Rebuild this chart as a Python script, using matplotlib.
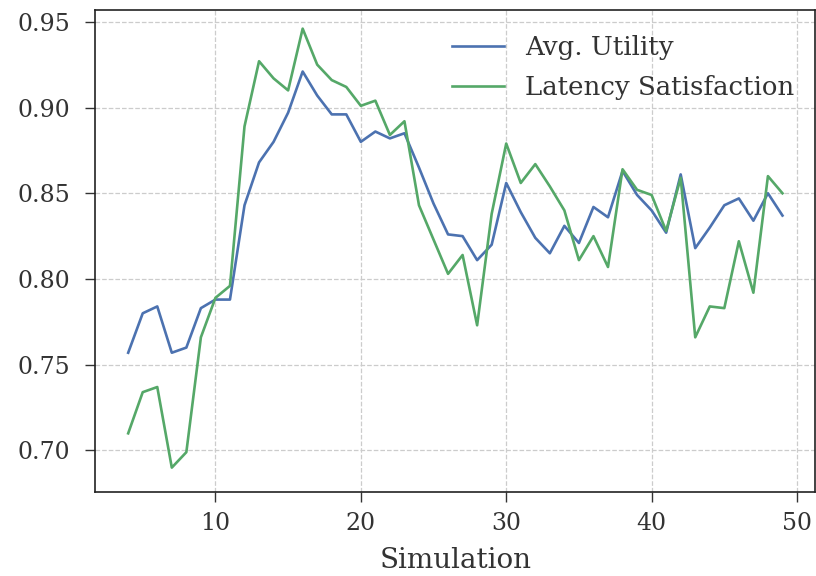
import numpy as np
import matplotlib
matplotlib.use('agg')
import matplotlib.pyplot as plt

# per-simulation results
sim = list(range(4, 50))
avg_utility = [0.757, 0.780, 0.784, 0.757, 0.760, 0.783, 0.788, 0.788, 0.843, 0.868,
               0.880, 0.897, 0.921, 0.907, 0.896, 0.896, 0.880, 0.886, 0.882, 0.885,
               0.865, 0.844, 0.826, 0.825, 0.811, 0.820, 0.856, 0.839, 0.824, 0.815,
               0.831, 0.821, 0.842, 0.836, 0.863, 0.849, 0.840, 0.827, 0.861, 0.818,
               0.830, 0.843, 0.847, 0.834, 0.850, 0.837]
latency_sat = [0.710, 0.734, 0.737, 0.690, 0.699, 0.766, 0.789, 0.796, 0.889, 0.927,
               0.917, 0.910, 0.946, 0.925, 0.916, 0.912, 0.901, 0.904, 0.884, 0.892,
               0.843, 0.823, 0.803, 0.814, 0.773, 0.838, 0.879, 0.856, 0.867, 0.854,
               0.840, 0.811, 0.825, 0.807, 0.864, 0.852, 0.849, 0.828, 0.859, 0.766,
               0.784, 0.783, 0.822, 0.792, 0.860, 0.850]

plt.rcParams['font.family'] = 'DejaVu Serif'
plt.rcParams['font.size'] = 17
text_color = '#333333'

fig = plt.figure(figsize=(8.16, 5.76), dpi=100)
ax = fig.add_axes([0.117, 0.145, 0.882, 0.838])

ax.plot(sim, avg_utility, color='#4C72B0', lw=1.9, label='Avg. Utility')
ax.plot(sim, latency_sat, color='#55A868', lw=1.9, label='Latency Satisfaction')

ax.set_yticks([0.70, 0.75, 0.80, 0.85, 0.90, 0.95])
ax.set_xticks([10, 20, 30, 40, 50])
ax.set_ylim(0.6755, 0.957)
ax.grid(True, linestyle='--', color='#cccccc', lw=0.9)
ax.set_axisbelow(True)
ax.tick_params(colors=text_color, labelcolor=text_color, length=7, width=1, pad=7)
ax.tick_params(axis='y', pad=11)
for sp in ax.spines.values():
    sp.set_color('#222222')
    sp.set_linewidth(1.2)

ax.set_xlabel('Simulation', color=text_color, fontsize=20, labelpad=9)
leg = ax.legend(loc='upper right', bbox_to_anchor=(1.0, 0.99), frameon=False,
                fontsize=18.7, labelspacing=0.55, borderaxespad=0.4)
for t in leg.get_texts():
    t.set_color(text_color)

fig.savefig('out.png', dpi=100)
